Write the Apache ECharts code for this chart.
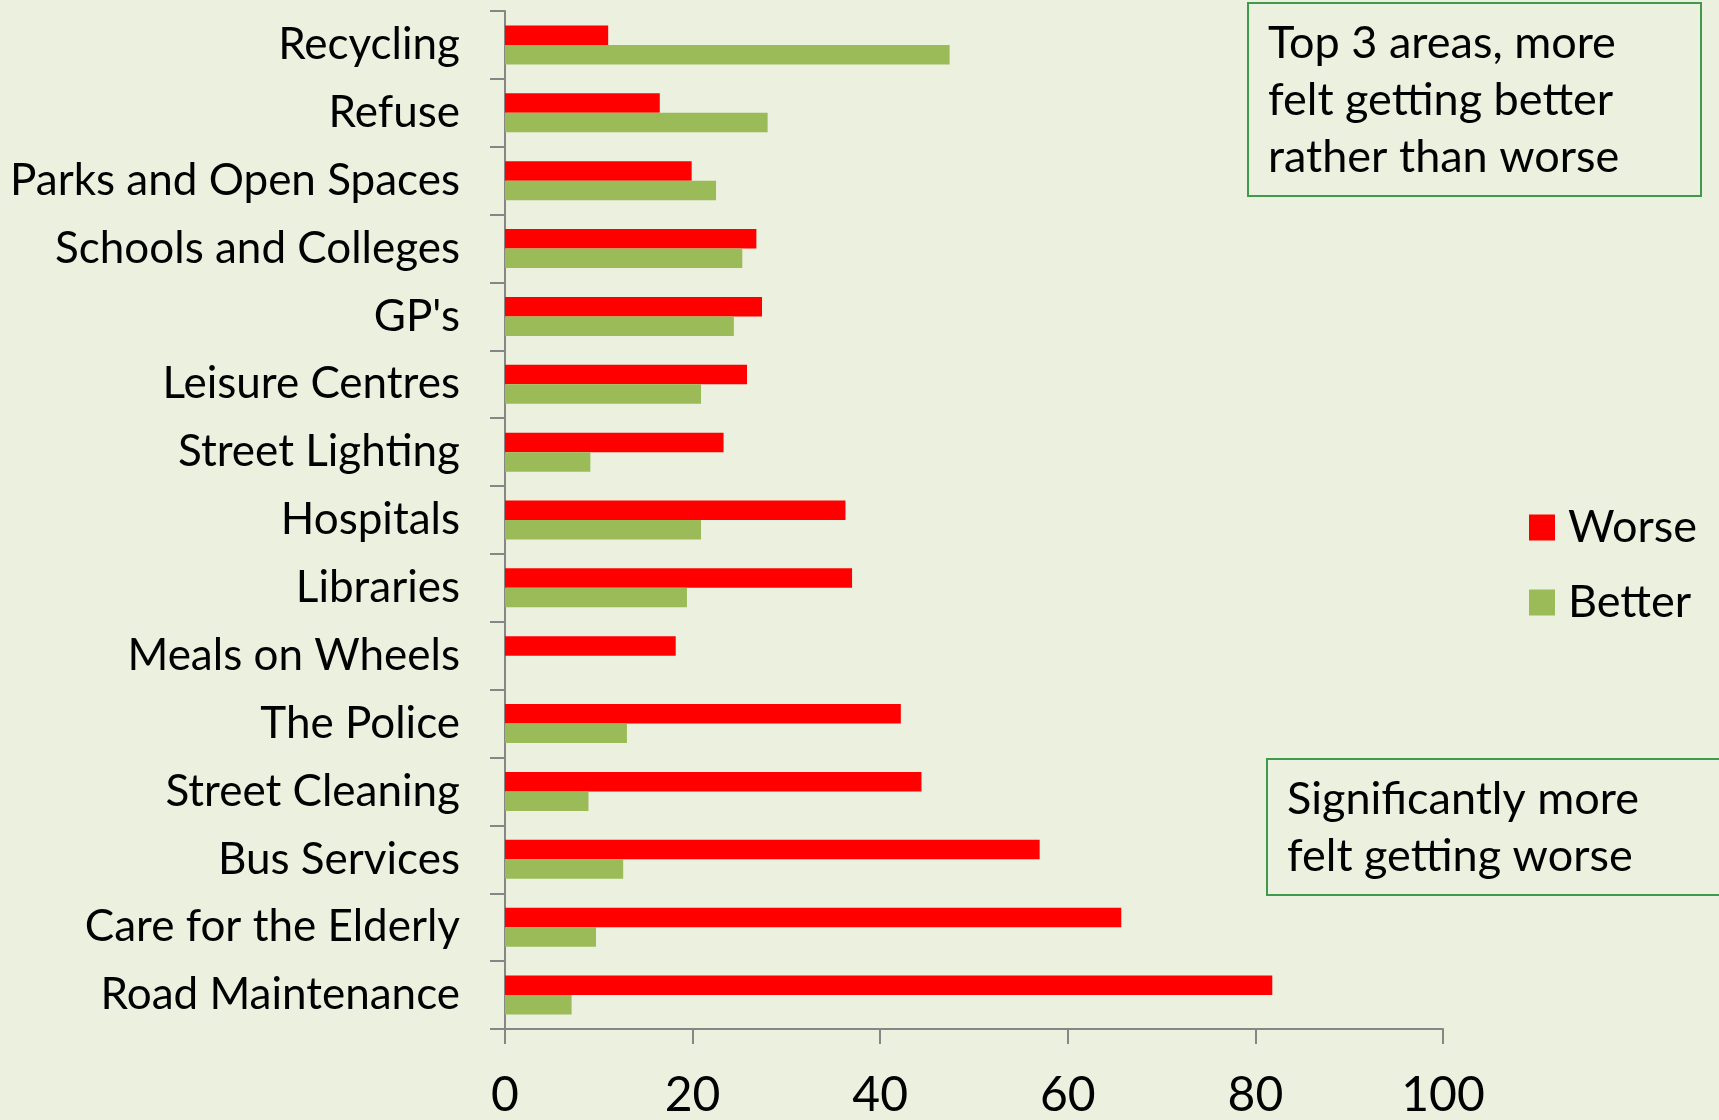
<!DOCTYPE html>
<html>
<head>
<meta charset="utf-8">
<script src="https://cdn.jsdelivr.net/npm/echarts@6/dist/echarts.min.js"></script>
<style>
  html, body { margin: 0; padding: 0; background: #EBF1DE; }
  #chart { width: 1719px; height: 1120px; }
</style>
</head>
<body>
<div id="chart"></div>
<script>
const categories = [
  'Recycling', 'Refuse', 'Parks and Open Spaces', 'Schools and Colleges', "GP's",
  'Leisure Centres', 'Street Lighting', 'Hospitals', 'Libraries', 'Meals on Wheels',
  'The Police', 'Street Cleaning', 'Bus Services', 'Care for the Elderly', 'Road Maintenance'
]
const worse = [11.0, 16.5, 19.9, 26.8, 27.4, 25.8, 23.3, 36.3, 37.0, 18.2, 42.2, 44.4, 57.0, 65.7, 81.8]
const better = [47.4, 28.0, 22.5, 25.3, 24.4, 20.9, 9.1, 20.9, 19.4, 0, 13.0, 8.9, 12.6, 9.7, 7.1]
const noteTop = 'Top 3 areas, more\nfelt getting better\nrather than worse'
const noteBottom = 'Significantly more\nfelt getting worse'

const FONT = 'Lato'
const axisGrey = '#868686'
const boxGreen = '#3F9A4B'

const chart = echarts.init(document.getElementById('chart'))

const option = {
  backgroundColor: '#EBF1DE',
  animation: false,
  textStyle: { fontFamily: FONT, color: '#000' },
  grid: { left: 505, right: 276, top: 11, bottom: 81 },
  legend: {
    orient: 'vertical',
    left: 1524,
    top: 497,
    icon: 'rect',
    itemWidth: 26,
    itemHeight: 26,
    itemGap: 24,
    data: ['Worse', 'Better'],
    textStyle: { fontFamily: FONT, fontSize: 45, color: '#000', lineHeight: 51, padding: [0, 0, 0, 8] }
  },
  xAxis: {
    type: 'value',
    min: 0,
    max: 100,
    interval: 20,
    axisLine: { show: true, lineStyle: { color: axisGrey, width: 2 } },
    axisTick: { show: true, length: 15, lineStyle: { color: axisGrey, width: 2 } },
    splitLine: { show: false },
    axisLabel: { fontFamily: FONT, fontSize: 48, color: '#000', margin: 43 }
  },
  yAxis: {
    type: 'category',
    inverse: true,
    data: categories,
    axisLine: { show: true, lineStyle: { color: axisGrey, width: 2 } },
    axisTick: { show: true, length: 15, lineStyle: { color: axisGrey, width: 2 } },
    axisLabel: { fontFamily: FONT, fontSize: 44, color: '#000', margin: 45 }
  },
  series: [
    {
      name: 'Worse',
      type: 'bar',
      data: worse,
      barWidth: 19.5,
      barGap: '0%',
      itemStyle: { color: '#FF0000' }
    },
    {
      name: 'Better',
      type: 'bar',
      data: better,
      barWidth: 19.5,
      barGap: '0%',
      itemStyle: { color: '#9BBB59' }
    }
  ],
  graphic: [
    {
      type: 'rect',
      shape: { x: 1248, y: 3, width: 453, height: 193 },
      style: { fill: 'none', stroke: boxGreen, lineWidth: 2 }
    },
    {
      type: 'text',
      x: 1268,
      y: 15,
      style: { text: noteTop, fontFamily: FONT, fontSize: 45, lineHeight: 57, fill: '#000' }
    },
    {
      type: 'rect',
      shape: { x: 1267, y: 759, width: 470, height: 136 },
      style: { fill: 'none', stroke: boxGreen, lineWidth: 2 }
    },
    {
      type: 'text',
      x: 1287,
      y: 771,
      style: { text: noteBottom, fontFamily: FONT, fontSize: 45, lineHeight: 57, fill: '#000' }
    }
  ]
}

chart.setOption(option)
</script>
</body>
</html>
